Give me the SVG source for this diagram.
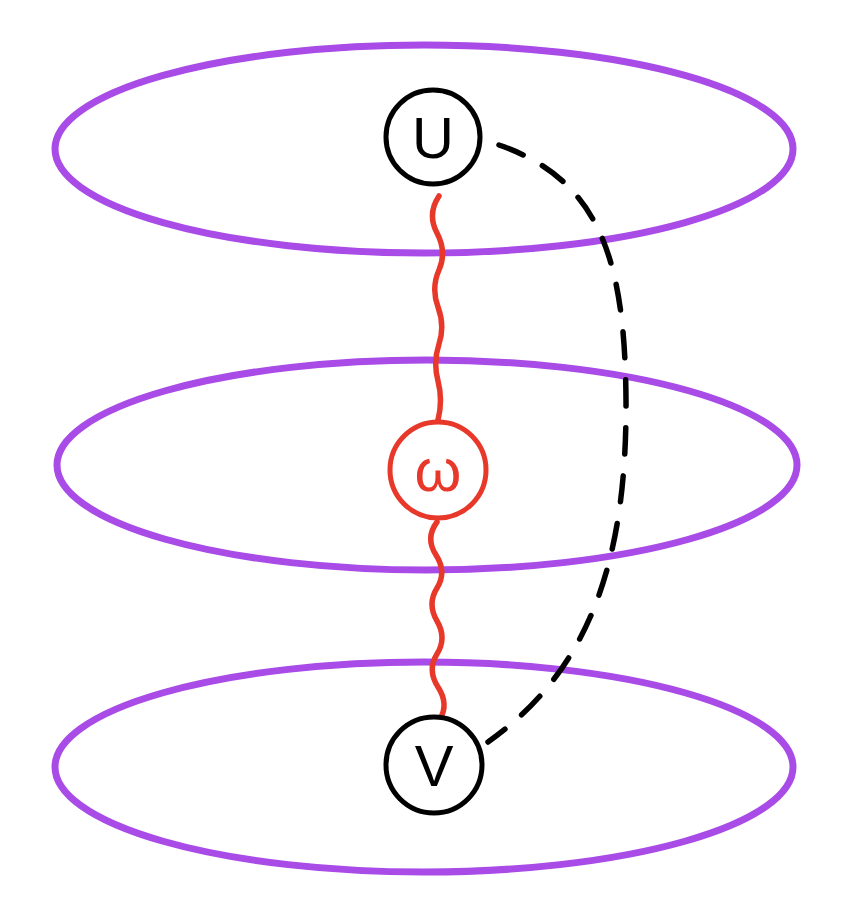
<svg xmlns="http://www.w3.org/2000/svg" width="843" height="915" viewBox="0 0 843 915">
<style>
.layer{fill:none;stroke:#a94be6;stroke-width:7}
.node{fill:#fff;stroke:#000;stroke-width:5}
.nodeR{fill:#fff;stroke:#e7382a;stroke-width:5}
.lbl{font-family:"Liberation Sans",Arial,sans-serif;font-size:58px;text-anchor:middle;fill:#000}
.lblR{font-family:"Liberation Sans",Arial,sans-serif;font-size:60px;text-anchor:middle;fill:#e7382a}
.wave{fill:none;stroke:#e7382a;stroke-width:5.5;stroke-linecap:round}
.dash{fill:none;stroke:#000;stroke-width:5.5;stroke-linecap:round;stroke-dasharray:26 22}
</style>
<rect width="843" height="915" fill="#fff"/>
<g id="layers">
<ellipse class="layer" cx="424" cy="149" rx="369" ry="104"/>
<ellipse class="layer" cx="427" cy="465" rx="370" ry="105"/>
<ellipse class="layer" cx="424" cy="767" rx="369" ry="105"/>
</g>
<g id="connectors">
<path class="wave" d="M439 196 q-12 18 -2 37 t2 37 t-1 37 t1 37 t-1 37 t0 39"/>
<path class="wave" d="M437 522 q-12 16 -1 33 t1 33 t0 33 t0 33 t1 33 t2 32"/>
<path class="dash" d="M499 145 C600 180, 625 260, 626 400 C627 560, 590 670, 488 742"/>
</g>
<g id="node-u">
<circle class="node" cx="433" cy="137" r="47"/>
<text class="lbl" x="433" y="158">U</text>
</g>
<g id="node-w">
<circle class="nodeR" cx="438" cy="470" r="48"/>
<text class="lblR" x="438" y="491">ω</text>
</g>
<g id="node-v">
<circle class="node" cx="434" cy="765" r="48"/>
<text class="lbl" x="434" y="786">V</text>
</g>
</svg>
